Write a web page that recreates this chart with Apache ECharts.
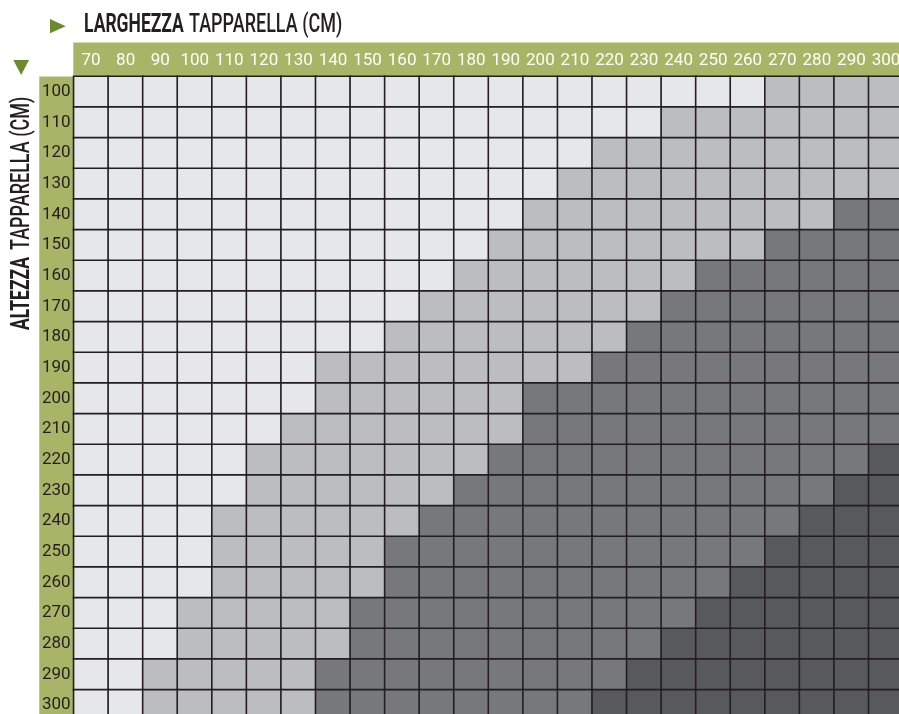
<!DOCTYPE html>
<html>
<head>
<meta charset="utf-8">
<style>
  html, body { margin: 0; padding: 0; background: #fff; }
  #chart { width: 899px; height: 714px; }
</style>
<script src="https://cdn.jsdelivr.net/npm/echarts@6/dist/echarts.min.js"></script>
</head>
<body>
<div id="chart"></div>
<script>
// larghezza (colonne) e altezza (righe) in cm
var larghezze = ['70', '80', '90', '100', '110', '120', '130', '140', '150', '160', '170', '180',
  '190', '200', '210', '220', '230', '240', '250', '260', '270', '280', '290', '300']
var altezze = ['100', '110', '120', '130', '140', '150', '160', '170', '180', '190', '200',
  '210', '220', '230', '240', '250', '260', '270', '280', '290', '300']

// fascia per ogni cella, una stringa per riga (0 = chiara ... 3 = scura)
var fasce = [
  '000000000000000000001111', // 100
  '000000000000000001111111', // 110
  '000000000000000111111111', // 120
  '000000000000001111111111', // 130
  '000000000000011111111122', // 140
  '000000000000111111112222', // 150
  '000000000001111111222222', // 160
  '000000000011111112222222', // 170
  '000000000111111122222222', // 180
  '000000011111111222222222', // 190
  '000000011111122222222222', // 200
  '000000111111122222222222', // 210
  '000001111111222222222223', // 220
  '000001111112222222222233', // 230
  '000011111122222222222333', // 240
  '000011111222222222223333', // 250
  '000011111222222222233333', // 260
  '000111112222222222333333', // 270
  '000111112222222223333333', // 280
  '001111122222222233333333', // 290
  '001111122222222333333333'  // 300
]
var coloriFasce = ['#e6e7e9', '#bcbdc0', '#77787b', '#58595b']

var verde = '#a8b566'
var verdeScuro = '#6b8a2d'
var linee = '#231f20'
var fontNumeri = "'Liberation Sans Narrow', 'Roboto', sans-serif"

var chart = echarts.init(document.getElementById('chart'))

var celle = []
for (var r = 0; r < altezze.length; r++) {
  for (var c = 0; c < larghezze.length; c++) {
    celle.push([c, r, +fasce[r][c]])
  }
}

chart.setOption({
  animation: false,
  grid: {
    left: 73.8,
    top: 76.5,
    width: 829.5,
    height: 644,
    outerBoundsMode: 'none',
    containLabel: false
  },
  xAxis: {
    type: 'category',
    position: 'top',
    data: larghezze,
    axisLine: { show: false },
    axisTick: { show: false },
    splitLine: { show: false },
    axisLabel: {
      color: '#ffffff',
      fontFamily: fontNumeri,
      fontSize: 17,
      margin: 7,
      interval: 0
    }
  },
  yAxis: {
    type: 'category',
    inverse: true,
    data: altezze,
    axisLine: { show: false },
    axisTick: { show: false },
    splitLine: { show: false },
    axisLabel: {
      color: '#231f20',
      fontFamily: fontNumeri,
      fontSize: 17,
      align: 'center',
      margin: 17.5,
      padding: [3, 0, 0, 0],
      interval: 0
    }
  },
  visualMap: {
    type: 'piecewise',
    show: false,
    dimension: 2,
    pieces: [
      { value: 0, color: coloriFasce[0] },
      { value: 1, color: coloriFasce[1] },
      { value: 2, color: coloriFasce[2] },
      { value: 3, color: coloriFasce[3] }
    ]
  },
  graphic: [
    // fasce verdi dietro le etichette
    { type: 'rect', z: -1, shape: { x: 73.3, y: 42.5, width: 830, height: 34 }, style: { fill: verde } },
    { type: 'rect', z: -1, shape: { x: 39.3, y: 76.5, width: 34.5, height: 640 }, style: { fill: verde } },
    // frecce
    { type: 'polygon', shape: { points: [[50, 19], [65.7, 26.2], [50, 33.3]] }, style: { fill: verdeScuro } },
    { type: 'polygon', shape: { points: [[13.3, 60], [29, 60], [21.2, 75]] }, style: { fill: verdeScuro } },
    // titolo orizzontale
    {
      type: 'text', x: 84, y: 25.5, scaleX: 0.70,
      style: { text: 'LARGHEZZA', fontFamily: 'Roboto', fontWeight: 'bold', fontSize: 25, fill: '#231f20', verticalAlign: 'middle' }
    },
    {
      type: 'text', x: 189, y: 25.5, scaleX: 0.72,
      style: { text: 'TAPPARELLA (CM)', fontFamily: 'Roboto', fontWeight: 500, fontSize: 25, fill: '#231f20', verticalAlign: 'middle' }
    },
    // titolo verticale
    {
      type: 'text', x: 22.5, y: 330, rotation: Math.PI / 2, scaleX: 0.70,
      style: { text: 'ALTEZZA', fontFamily: 'Roboto', fontWeight: 'bold', fontSize: 25, fill: '#231f20', verticalAlign: 'middle' }
    },
    {
      type: 'text', x: 22.5, y: 250, rotation: Math.PI / 2, scaleX: 0.72,
      style: { text: 'TAPPARELLA (CM)', fontFamily: 'Roboto', fontWeight: 500, fontSize: 25, fill: '#231f20', verticalAlign: 'middle' }
    }
  ],
  series: [
    {
      type: 'heatmap',
      data: celle,
      itemStyle: {
        borderColor: linee,
        borderWidth: 1.6
      },
      emphasis: { disabled: true }
    }
  ]
})
</script>
</body>
</html>
